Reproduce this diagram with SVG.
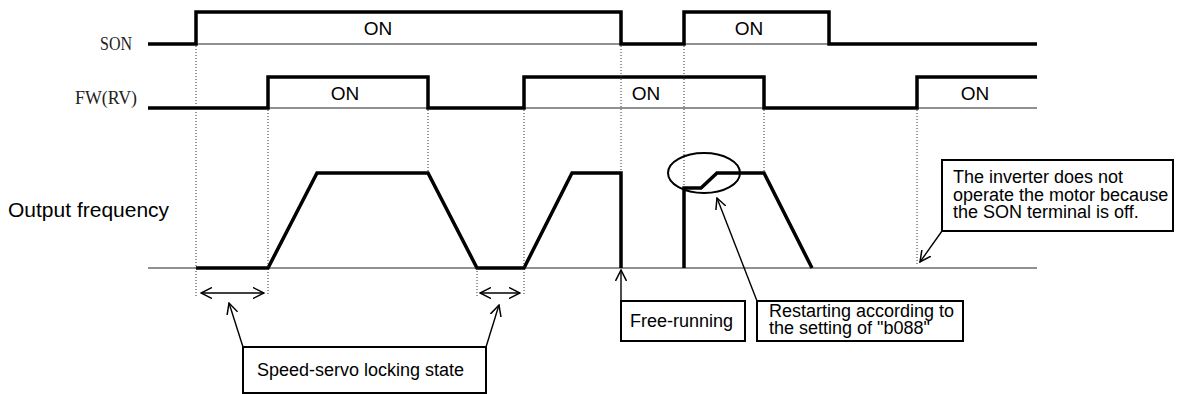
<svg xmlns="http://www.w3.org/2000/svg" width="1179" height="394" viewBox="0 0 1179 394">
<style>
.thick{fill:none;stroke:#000;stroke-width:3.5;stroke-linejoin:miter}
.thin{fill:none;stroke:#222;stroke-width:1}
.dot{fill:none;stroke:#333;stroke-width:1;stroke-dasharray:1,2}
.arr{fill:none;stroke:#000;stroke-width:1.4}
.box{fill:#fff;stroke:#000;stroke-width:2}
.sans{font-family:"Liberation Sans",Arial,sans-serif;fill:#000}
.serif{font-family:"Liberation Serif","Times New Roman",serif;fill:#222;font-size:18px}
</style>
<defs>
<marker id="ah" viewBox="0 0 12 12" refX="11" refY="6" markerWidth="12" markerHeight="12" markerUnits="userSpaceOnUse" orient="auto-start-reverse">
<path d="M0,0.5 L11,6 L0,11.5" fill="none" stroke="#000" stroke-width="1.5"/>
</marker>
</defs>

<g id="labels">
<text class="serif" x="100" y="50" textLength="32" lengthAdjust="spacingAndGlyphs">SON</text>
<text class="serif" x="75" y="104" textLength="62" lengthAdjust="spacingAndGlyphs">FW(RV)</text>
<text class="sans" x="8" y="217" font-size="21">Output frequency</text>
</g>

<g id="son-signal">
<line class="thin" x1="148" y1="44" x2="1037" y2="44"/>
<polyline class="thick" points="148,44 196,44 196,12 621,12 621,44 684,44 684,12 829,12 829,44 1037,44"/>
<text class="sans" x="378" y="35" font-size="19" text-anchor="middle">ON</text>
<text class="sans" x="749" y="35" font-size="19" text-anchor="middle">ON</text>
</g>

<g id="fw-signal">
<line class="thin" x1="148" y1="108" x2="1037" y2="108"/>
<polyline class="thick" points="148,108 268,108 268,77 428,77 428,108 524,108 524,77 764,77 764,108 917,108 917,77 1037,77"/>
<text class="sans" x="345" y="100" font-size="19" text-anchor="middle">ON</text>
<text class="sans" x="646" y="100" font-size="19" text-anchor="middle">ON</text>
<text class="sans" x="975" y="100" font-size="19" text-anchor="middle">ON</text>
</g>

<g id="output-frequency">
<line class="thin" x1="148" y1="268" x2="1037" y2="268"/>
<polyline class="thick" points="196,268 268,268 317,173 428,173 477,268 524,268 572,173 621,173 621,268"/>
<polyline class="thick" points="684,268 684,188 701,188 717,173 764,173 812,268"/>
</g>

<g id="guides">
<line class="dot" x1="196" y1="46" x2="196" y2="296"/>
<line class="dot" x1="268" y1="110" x2="268" y2="296"/>
<line class="dot" x1="428" y1="110" x2="428" y2="172"/>
<line class="dot" x1="477" y1="268" x2="477" y2="296"/>
<line class="dot" x1="524" y1="110" x2="524" y2="296"/>
<line class="dot" x1="621" y1="46" x2="621" y2="172"/>
<line class="dot" x1="684" y1="46" x2="684" y2="186"/>
<line class="dot" x1="764" y1="110" x2="764" y2="172"/>
<line class="dot" x1="917" y1="110" x2="917" y2="264"/>
</g>

<g id="connectors">
<line class="arr" x1="201" y1="293" x2="264" y2="293" marker-start="url(#ah)" marker-end="url(#ah)"/>
<line class="arr" x1="480" y1="293" x2="520" y2="293" marker-start="url(#ah)" marker-end="url(#ah)"/>
<line class="arr" x1="243" y1="347" x2="229" y2="303" marker-end="url(#ah)"/>
<line class="arr" x1="486" y1="347" x2="499" y2="305" marker-end="url(#ah)"/>
<line class="arr" x1="621" y1="301" x2="621" y2="270" marker-end="url(#ah)"/>
<line class="arr" x1="757" y1="301" x2="717" y2="198" marker-end="url(#ah)"/>
<line class="arr" x1="942" y1="231" x2="920" y2="262" marker-end="url(#ah)"/>
<ellipse cx="704" cy="173" rx="36" ry="20" fill="none" stroke="#000" stroke-width="2"/>
</g>

<g id="box-speed-servo">
<rect class="box" x="243" y="347" width="243" height="46"/>
<text class="sans" x="257" y="376" font-size="18">Speed-servo locking state</text>
</g>

<g id="box-free-running">
<rect class="box" x="621" y="301" width="124" height="40"/>
<text class="sans" x="630" y="327" font-size="18">Free-running</text>
</g>

<g id="box-restarting">
<rect class="box" x="757" y="301" width="206" height="40"/>
<text class="sans" x="769" y="317" font-size="18">Restarting according to</text>
<text class="sans" x="769" y="334" font-size="18">the setting of "b088"</text>
</g>

<g id="box-inverter">
<rect class="box" x="942" y="160" width="231" height="71"/>
<text class="sans" x="953" y="183" font-size="18">The inverter does not</text>
<text class="sans" x="953" y="201" font-size="18">operate the motor because</text>
<text class="sans" x="953" y="218" font-size="18">the SON terminal is off.</text>
</g>
</svg>
